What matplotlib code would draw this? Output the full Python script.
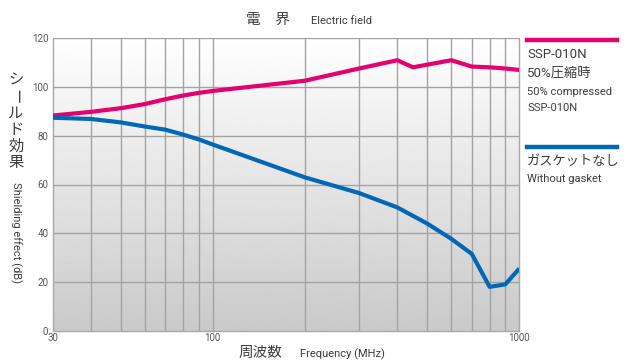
import numpy as np
import matplotlib
matplotlib.use("Agg")
import matplotlib.pyplot as plt
from matplotlib import font_manager

# ---- data -------------------------------------------------------------
freq_mhz = [30, 40, 50, 60, 70, 80, 90, 100, 200, 300, 400, 450, 600, 700, 800, 900, 1000]
ssp_010n = [88.3, 89.8, 91.3, 93.0, 95.0, 96.5, 97.6, 98.4, 102.6, 107.6, 111.0, 108.1, 111.0, 108.4, 108.1, 107.6, 107.0]
freq_bare = [30, 40, 50, 60, 70, 80, 90, 100, 200, 300, 400, 500, 600, 700, 800, 900, 1000]
no_gasket = [87.4, 86.9, 85.5, 83.8, 82.5, 80.5, 78.5, 76.4, 62.9, 56.5, 50.6, 44.0, 37.7, 31.5, 18.0, 19.0, 25.5]

y_ticks = [0, 20, 40, 60, 80, 100, 120]
x_ticks = [30, 100, 1000]
x_tick_labels = ["30", "100", "1000"]

PINK = "#e4006f"
BLUE = "#0068b7"
TEXT = "#3c3c3c"

# ---- fonts ------------------------------------------------------------
available = {f.name for f in font_manager.fontManager.ttflist}
narrow = "Liberation Sans Narrow" if "Liberation Sans Narrow" in available else "Roboto"
JP = "Noto Sans CJK JP"

fig = plt.figure(figsize=(6.27, 3.60), dpi=100)
W, H = 627.0, 360.0
ax = fig.add_axes([52.5 / W, 1 - 330.7 / H, (519.3 - 52.5) / W, (330.7 - 38.3) / H])

# grey vertical gradient behind the plot area
grad = np.linspace(0.79, 1.0, 256).reshape(-1, 1)
ax.imshow(grad, cmap="gray", vmin=0, vmax=1, extent=[0, 1, 0, 1],
          transform=ax.transAxes, aspect="auto", origin="lower", zorder=0)

ax.set_xscale("log")
ax.set_xlim(30, 1000)
ax.set_ylim(0, 120)

# grid on every decade step and every 20 dB
minor_x = [f for d in (10, 100) for f in np.arange(2, 10) * d if 30 < f < 1000]
for f in minor_x + [100]:
    ax.axvline(f, color="#a3a3a3", lw=1.0, zorder=1)
for v in y_ticks[1:]:
    ax.axhline(v, color="#a3a3a3", lw=1.0, zorder=1)

ax.plot(freq_mhz, ssp_010n, color=PINK, lw=3.0, solid_joinstyle="round",
        solid_capstyle="butt", zorder=3)
ax.plot(freq_bare, no_gasket, color=BLUE, lw=3.0, solid_joinstyle="round",
        solid_capstyle="butt", zorder=3)

for s in ax.spines.values():
    s.set_color("#a8a8a8")
    s.set_linewidth(1.0)
ax.spines["top"].set_visible(False)

ax.set_xticks(x_ticks)
ax.set_xticklabels(x_tick_labels)
ax.xaxis.set_minor_locator(matplotlib.ticker.NullLocator())
ax.set_yticks(y_ticks)
ax.tick_params(length=0, labelsize=7, colors="#555555", pad=3)
for lab in ax.get_xticklabels() + ax.get_yticklabels():
    lab.set_family(narrow)
ax.tick_params(axis="x", pad=2)

def fx(px):
    return px / W

def fy(py):
    return 1 - py / H

# title
fig.text(fx(268), fy(20), "電　界", family=JP, fontsize=10.5, color=TEXT,
         ha="center", va="center")
fig.text(fx(311), fy(20.5), "Electric field", family=narrow, fontsize=8, color=TEXT,
         ha="left", va="center")

# x label
fig.text(fx(260), fy(353), "周波数", family=JP, fontsize=10.5, color=TEXT,
         ha="center", va="center")
fig.text(fx(300), fy(354), "Frequency (MHz)", family=narrow, fontsize=8, color=TEXT,
         ha="left", va="center")

# y label: Japanese stacked vertically, English rotated
jp_chars = ["シ", "ー", "ル", "ド", "効", "果"]
for i, ch in enumerate(jp_chars):
    fig.text(fx(16), fy(80 + i * 16.6), ch, family=JP, fontsize=11, color=TEXT,
             ha="center", va="center", rotation=-90 if ch == "ー" else 0)
fig.text(fx(16), fy(233), "Shielding effect (dB)", family=narrow, fontsize=8,
         color=TEXT, ha="center", va="center", rotation=-90)

# legend at right
fig.add_artist(plt.Line2D([fx(527), fx(617)], [fy(40), fy(40)], color=PINK, lw=3.2))
fig.text(fx(527), fy(54), "SSP-010N", family=narrow, fontsize=9.5, color=TEXT,
         ha="left", va="center")
fig.text(fx(527), fy(73), "50%圧縮時", family=[narrow, JP], fontsize=9.5, color=TEXT,
         ha="left", va="center")
fig.text(fx(527), fy(92), "50% compressed", family=narrow, fontsize=8, color=TEXT,
         ha="left", va="center")
fig.text(fx(527), fy(108), "SSP-010N", family=narrow, fontsize=8, color=TEXT,
         ha="left", va="center")

fig.add_artist(plt.Line2D([fx(527), fx(617)], [fy(147), fy(147)], color=BLUE, lw=3.2))
fig.text(fx(527), fy(161), "ガスケットなし", family=JP, fontsize=9.5, color=TEXT,
         ha="left", va="center")
fig.text(fx(527), fy(179), "Without gasket", family=narrow, fontsize=8, color=TEXT,
         ha="left", va="center")

fig.savefig("out.png", dpi=100)
